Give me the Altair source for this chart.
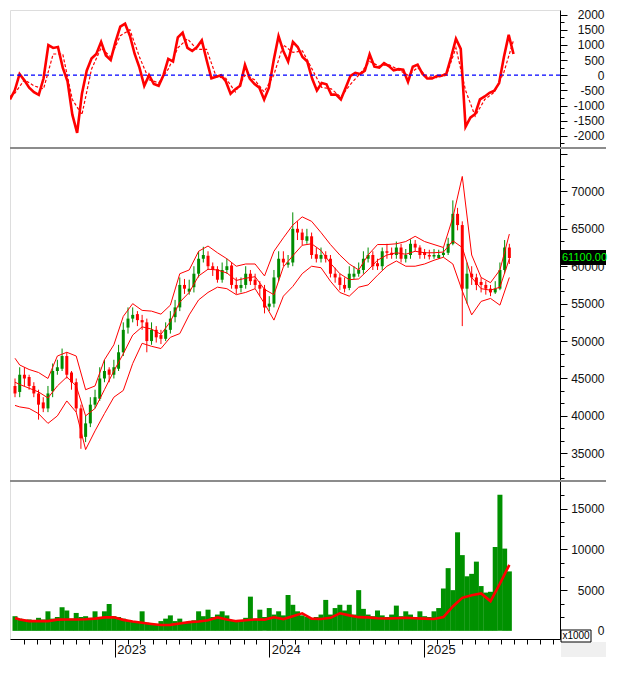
import altair as alt
import pandas as pd

# ---------------- data ----------------
START = "2022-05-10"
STEP = "267h"          # one sample ~ 11 days

close = [43000, 45500, 45000, 44000, 43000, 41500, 41000, 43000, 46000, 46500,
         48000, 45500, 44500, 41000, 37000, 39000, 41500, 42500, 45000, 46000,
         45500, 46500, 48500, 51500, 53000, 53500, 52800, 52500, 50000, 51500,
         50500, 50300, 51500, 53000, 54500, 57500, 57000, 57000, 59000, 61000,
         61500, 60000, 59500, 58200, 59500, 60000, 57500, 57000, 57500, 59000,
         58000, 57500, 57000, 54500, 55000, 58500, 61000, 60500, 60500, 65000,
         64500, 63500, 64000, 61500, 61000, 61500, 61000, 59000, 58500, 57500,
         57000, 59000, 59000, 59500, 61000, 61500, 60000, 60000, 62000, 61800,
         61500, 62500, 61000, 61500, 63000, 62500, 61500, 61500, 61300, 61500,
         61500, 61800, 63000, 67000, 65500, 57000, 59000, 58500, 57500, 57500,
         57000, 56500, 57000, 59500, 62500, 61100]
open_ = [44000, 43200, 45500, 45200, 44000, 43000, 41800, 41000, 43300, 46000,
         46300, 48000, 45800, 44500, 41000, 37200, 39000, 41500, 42300, 45000,
         46200, 45500, 46300, 48500, 51800, 53000, 53600, 52800, 52500, 50000,
         51500, 50800, 50300, 51500, 53200, 54500, 57500, 56600, 57200, 59000,
         61000, 61400, 60000, 59600, 58200, 59500, 60100, 57500, 57100, 57500,
         59000, 58200, 57500, 57000, 54600, 55000, 58500, 61000, 60200, 60500,
         65000, 64500, 63400, 64000, 61600, 61000, 61500, 61000, 59000, 58500,
         57500, 57100, 58600, 59000, 59500, 61000, 61500, 60400, 60000, 62000,
         61800, 61500, 62500, 61000, 61500, 63000, 62500, 61900, 61500, 61300,
         61100, 61500, 61800, 63000, 67000, 65500, 57000, 59000, 58500, 57900,
         57500, 57000, 56500, 57000, 59500, 62500]
high = [45000, 46500, 46500, 45500, 44500, 43500, 42500, 44000, 47000, 47500,
        49000, 48500, 46000, 45000, 41500, 40000, 42500, 43500, 46500, 47500,
        46500, 47500, 49500, 52500, 54500, 54500, 54000, 53500, 53000, 52500,
        52000, 51500, 52500, 54000, 55500, 58500, 58300, 58200, 60000, 62000,
        62600, 62000, 60500, 60000, 60500, 61000, 60500, 58500, 58500, 60000,
        59500, 59000, 58000, 57500, 56000, 59500, 62000, 62000, 61500, 67200,
        66000, 65000, 65000, 64500, 62500, 62500, 62000, 61500, 59800, 59000,
        58500, 60000, 60000, 60500, 62000, 62500, 62000, 61000, 62500, 63000,
        62500, 63300, 63000, 62300, 63600, 63500, 62800, 62300, 62200, 62300,
        62200, 62500, 63800, 68800, 67800, 66000, 60500, 60000, 59000, 58500,
        58000, 57500, 58000, 60500, 63500, 63000]
low = [42500, 42500, 44000, 43500, 42500, 39500, 40500, 40500, 42500, 45500,
       46000, 45000, 43500, 40500, 35600, 36500, 38500, 41000, 42000, 44500,
       44500, 45000, 46000, 48000, 51000, 52500, 52000, 51500, 48500, 49500,
       49800, 49600, 50000, 51000, 52500, 54000, 56300, 56200, 56500, 58500,
       60500, 59500, 58700, 57800, 57800, 59000, 57000, 56300, 56500, 57000,
       57500, 57000, 56000, 53700, 54000, 54500, 58000, 60000, 59800, 60000,
       63500, 62800, 63000, 61000, 60500, 60500, 60500, 58500, 57800, 56800,
       56500, 56800, 58300, 58600, 59000, 60500, 59500, 59500, 59500, 61000,
       61000, 61000, 60500, 60500, 61000, 62000, 61000, 61000, 60900, 61000,
       61000, 61200, 61500, 62800, 64800, 52000, 55000, 57500, 56800, 56500,
       56200, 56000, 56300, 56800, 59000, 60300]
volume = [1800, 1500, 1300, 1400, 1200, 1600, 1400, 2400, 1500, 1700,
          2900, 2500, 1500, 2200, 1700, 1800, 1600, 2400, 1700, 2400,
          3300, 1800, 1700, 1500, 1300, 1100, 1000, 2400, 1000, 900,
          800, 1200, 1500, 1900, 1200, 1500, 1100, 1200, 1300, 2400,
          1800, 2600, 1700, 2000, 2400, 1900, 1300, 1200, 1300, 1600,
          4200, 1500, 2600, 1700, 2800, 2000, 2400, 1900, 4400, 3200,
          2400, 1900, 1700, 1500, 1700, 2000, 3800, 2000, 2800, 3200,
          2500, 3200, 2000, 5000, 2700, 2000, 1800, 2500, 1900, 1700,
          2000, 3100, 1800, 2400, 2000, 1700, 2400, 1800, 1700, 2400,
          2800, 5200, 7700, 5000, 12100, 9300, 6700, 7000, 8500, 5500,
          4700, 4800, 10300, 16700, 10100, 7300]
osc = [-800, -500, 40, -170, -410, -560, -650, -100, 990, 900,
       930, 250, -200, -1300, -1900, -610, 150, 550, 700, 1100,
       650, 500, 1100, 1600, 1700, 1300, 700, 250, -350, 0,
       -290, -350, 0, 540, 450, 1250, 1400, 900, 800, 930,
       1150, 500, -100, -50, 0, -200, -610, -460, -350, 340,
       -110, -290, -410, -800, -410, 500, 1290, 800, 450, 1100,
       930, 600, 450, -110, -500, -260, -300, -640, -640, -800,
       -410, -20, 80, 40, 150, 690, 280, 250, 400, 300,
       160, 200, 180, -220, 280, 350, 50, -110, -110, -30,
       -20, 50, 600, 1200, 870, -1700, -1400, -1280, -800, -700,
       -580, -510, -260, 600, 1330, 700]

# indicator lines, sampled every other point
bb_upper = [47700, 46800, 46200, 45800, 45000, 48000, 48500, 48000, 43500, 44000,
            47500, 49500, 53300, 55000, 54100, 54000, 53600, 54800, 59000, 59500,
            62000, 62700, 61800, 61000, 60000, 60300, 60300, 58700, 62000, 63800,
            65500, 66600, 66000, 64500, 62900, 61500, 60300, 59500, 61500, 62900,
            62900, 63000, 63300, 64000, 63300, 62900, 62500, 66500, 72000, 61500,
            58500, 57800, 59500, 64300]
bb_mid = [44500, 44200, 43700, 43200, 42400, 44000, 45200, 44000, 40000, 41000,
          43500, 46000, 48300, 50800, 51900, 51600, 50900, 52600, 55200, 56500,
          58700, 59600, 59500, 59100, 58100, 58400, 58600, 56900, 56200, 59900,
          61400, 62800, 63000, 62100, 60400, 59000, 58200, 58300, 59500, 60800,
          61500, 61800, 61600, 62000, 61800, 61800, 61900, 63400, 62500, 58500,
          57000, 56800, 57200, 61000]
bb_lower = [41400, 41200, 41000, 40300, 39000, 40000, 42000, 40500, 35500, 38000,
            40300, 42500, 43400, 47000, 49700, 49300, 49000, 50500, 51000, 53500,
            55500, 56500, 57200, 57000, 56200, 56500, 57000, 55000, 52800, 56000,
            57300, 59000, 60000, 59800, 58000, 56500, 56000, 57200, 57500, 58800,
            60000, 60700, 60000, 60000, 60300, 60800, 61200, 60300, 56700, 53500,
            55300, 55700, 54800, 58500]
osc_signal = [-700, -600, -150, -350, -450, 700, 700, -800, -1300, 200,
              900, 600, 1300, 1500, 600, -150, -250, 200, 900, 1200,
              850, 850, -50, -100, -550, 0, -150, -550, 0, 1000,
              750, 800, 200, -400, -450, -720, -300, 50, 450, 300,
              350, 180, 0, 250, -50, -80, 0, 900, -500, -1350,
              -800, -560, 100, 1150]
vol_ma = [1590, 1400, 1200, 1190, 1200, 1380, 1400, 1400, 1420, 1500,
          1650, 1670, 1350, 1150, 1000, 850, 720, 730, 900, 1070,
          1150, 1300, 1650, 1400, 1190, 1300, 1400, 1380, 1670, 1450,
          1800, 2150, 1500, 1450, 1600, 2150, 1900, 1680, 1650, 1550,
          1520, 1550, 1600, 1550, 1500, 1450, 1700, 3000, 4050, 4370,
          4600, 3650, 5800, 8100]

# ---------------- tables ----------------
dates = pd.date_range(START, periods=len(close), freq=STEP)
band_idx = [0] + list(range(1, len(close), 2))
band_dates = dates[band_idx]

candles = pd.DataFrame({"date": dates, "open": open_, "close": close,
                        "high": high, "low": low, "vol": volume, "osc": osc})
bands = pd.DataFrame({"date": band_dates, "up": bb_upper, "mid": bb_mid,
                      "lo": bb_lower, "sig": osc_signal, "vma": vol_ma})
one = pd.DataFrame({"k": [0]})

W = 550
H1, H2, H3 = 138, 333, 158
RED = "#FF0000"
GREEN = "#008C00"
FONT = "Liberation Sans"
RIGHT = 44            # where the right-aligned axis labels end, right of the plot

xdom = [alt.DateTime(year=2022, month=5, date=10), alt.DateTime(year=2025, month=11, date=6)]
xs = alt.Scale(domain=xdom)
X_NONE = alt.X("date:T", scale=xs, axis=None)


def ticks(lo, hi, step):
    out = []
    k = 0
    while lo + k * step <= hi + 1e-6:
        v = lo + k * step
        out.append(int(round(v)) if abs(v - round(v)) < 1e-3 else round(v, 2))
        k += 1
    return out


def yaxis(values, major, top):
    test = f"abs(datum.value % {major}) < 0.01"
    return alt.Axis(orient="right", values=values, title=None, grid=False,
                    labelExpr=f"{test} && datum.value <= {top} ? '' + datum.value : ''",
                    tickSize={"condition": {"test": test, "value": 7}, "value": 4},
                    labelAlign="right", labelPadding=RIGHT - 7,
                    domainColor="black", tickColor="black",
                    labelColor="#111", labelFont=FONT, labelFontSize=12,
                    labelFlush=False, labelOverlap=False)


osc_axis = yaxis(ticks(-2250, 2000, 250), 500, 2000)
price_axis = yaxis(ticks(31666.666667, 75000, 5000 / 3), 5000, 70000)
vol_axis = yaxis(ticks(0, 18000, 5000 / 3), 5000, 15000)

osc_scale = alt.Scale(domain=[-2400, 2150], nice=False, zero=False)
price_scale = alt.Scale(domain=[31300, 75800], nice=False, zero=False)
vol_scale = alt.Scale(domain=[-1000, 18400], nice=False, zero=False)


def OY(f):
    return alt.Y(f, scale=osc_scale, axis=osc_axis)


def PY(f):
    return alt.Y(f, scale=price_scale, axis=price_axis)


def VY(f):
    return alt.Y(f, scale=vol_scale, axis=vol_axis)


# ---------------- top: oscillator ----------------
osc_line = alt.Chart(candles).mark_line(color=RED, strokeWidth=2.6, clip=True).encode(
    x=X_NONE, y=OY("osc:Q"))
sig_line = alt.Chart(bands).mark_line(color=RED, strokeWidth=1.2, strokeDash=[3, 2], clip=True).encode(
    x=X_NONE, y=OY("sig:Q"))
zero = alt.Chart(one).transform_calculate(z="0").mark_rule(
    color="#0000FF", strokeDash=[4, 3], strokeWidth=1.2).encode(
    x=alt.value(0), x2=alt.value(W), y=OY("z:Q"))
top = alt.layer(osc_line, zero, sig_line).properties(width=W, height=H1)

# ---------------- middle: candles + bands ----------------
col = alt.condition("datum.close >= datum.open", alt.value(GREEN), alt.value(RED))
wick = alt.Chart(candles).mark_rule(strokeWidth=1, clip=True).encode(
    x=X_NONE, y=PY("low:Q"), y2="high:Q", color=col)
body = alt.Chart(candles).mark_bar(width=3, clip=True).encode(
    x=X_NONE, y=PY("open:Q"), y2="close:Q", color=col)
lines = [alt.Chart(bands).mark_line(color=RED, strokeWidth=1, clip=True).encode(
    x=X_NONE, y=PY(f"{f}:Q")) for f in ["up", "mid", "lo"]]
sep2 = alt.Chart(one).mark_rule(color="#8c8c8c", strokeWidth=2).encode(
    x=alt.value(0), x2=alt.value(W + RIGHT + 2), y=alt.value(0))
last_val = close[-1]
tagdf = pd.DataFrame({"p": [last_val], "t": [f"{last_val:.2f}"]})
tag_box = alt.Chart(tagdf).mark_rect(color="black", yOffset=-8, y2Offset=7, clip=False).encode(
    x=alt.value(W + 1), x2=alt.value(W + RIGHT + 2), y=PY("p:Q"), y2="p:Q")
tag_txt = alt.Chart(tagdf).mark_text(color="#00FF00", align="left", baseline="middle", font=FONT,
                                     fontSize=11, clip=False).encode(
    x=alt.value(W + 2), y=PY("p:Q"), text="t:N")
mid = alt.layer(wick, body, *lines, sep2, tag_box, tag_txt).properties(width=W, height=H2)

# ---------------- bottom: volume ----------------
months = pd.date_range("2022-06-01", "2025-11-01", freq="MS")
xvals = [alt.DateTime(year=int(d.year), month=int(d.month), date=1) for d in months]
xaxis = alt.Axis(values=xvals, title=None, grid=False, domainColor="black", tickColor="black",
                 labelExpr="month(datum.value) === 0 ? timeFormat(datum.value, '%Y') : ''",
                 tickSize={"condition": {"test": "month(datum.value) === 0", "value": 18}, "value": 5},
                 labelAlign="left", labelBaseline="middle", labelPadding=-8, labelOffset=2,
                 labelColor="#111", labelFont=FONT, labelFontSize=13,
                 labelFlush=False, labelOverlap=False)
X_AX = alt.X("date:T", scale=xs, axis=xaxis)
vbars = alt.Chart(candles).transform_calculate(z="0").mark_bar(
    width=5, color="#009100", clip=True).encode(x=X_AX, y=VY("vol:Q"), y2="z:Q")
vma = alt.Chart(bands).mark_line(color=RED, strokeWidth=2.6, clip=True).encode(
    x=X_AX, y=VY("vma:Q"))
sep3 = alt.Chart(one).mark_rule(color="#8c8c8c", strokeWidth=2).encode(
    x=alt.value(0), x2=alt.value(W + RIGHT + 2), y=alt.value(0))
gray = alt.Chart(one).mark_rect(color="#f0f0f0", clip=False).encode(
    x=alt.value(W + 1), x2=alt.value(W + RIGHT + 2), y=alt.value(H3 + 3), y2=alt.value(H3 + 18))
kbox = alt.Chart(one).mark_rect(fill="white", stroke="black", strokeWidth=1, clip=False).encode(
    x=alt.value(W + 1), x2=alt.value(W + 31), y=alt.value(H3 - 9), y2=alt.value(H3 + 3))
ktxt = alt.Chart(one).mark_text(align="center", baseline="middle", font=FONT, fontSize=10,
                                color="black", clip=False).encode(
    x=alt.value(W + 16), y=alt.value(H3 - 3), text=alt.value("x1000"))
bot = alt.layer(vbars, vma, sep3, gray, kbox, ktxt).properties(width=W, height=H3)

chart = alt.vconcat(top, mid, bot, spacing=0, bounds="flush").properties(
    padding={"left": 0, "top": 0, "right": 0, "bottom": 0}
).configure_view(stroke=None).configure(background="white")

chart.save("out.html", embed_options={"renderer": "svg", "actions": False})
